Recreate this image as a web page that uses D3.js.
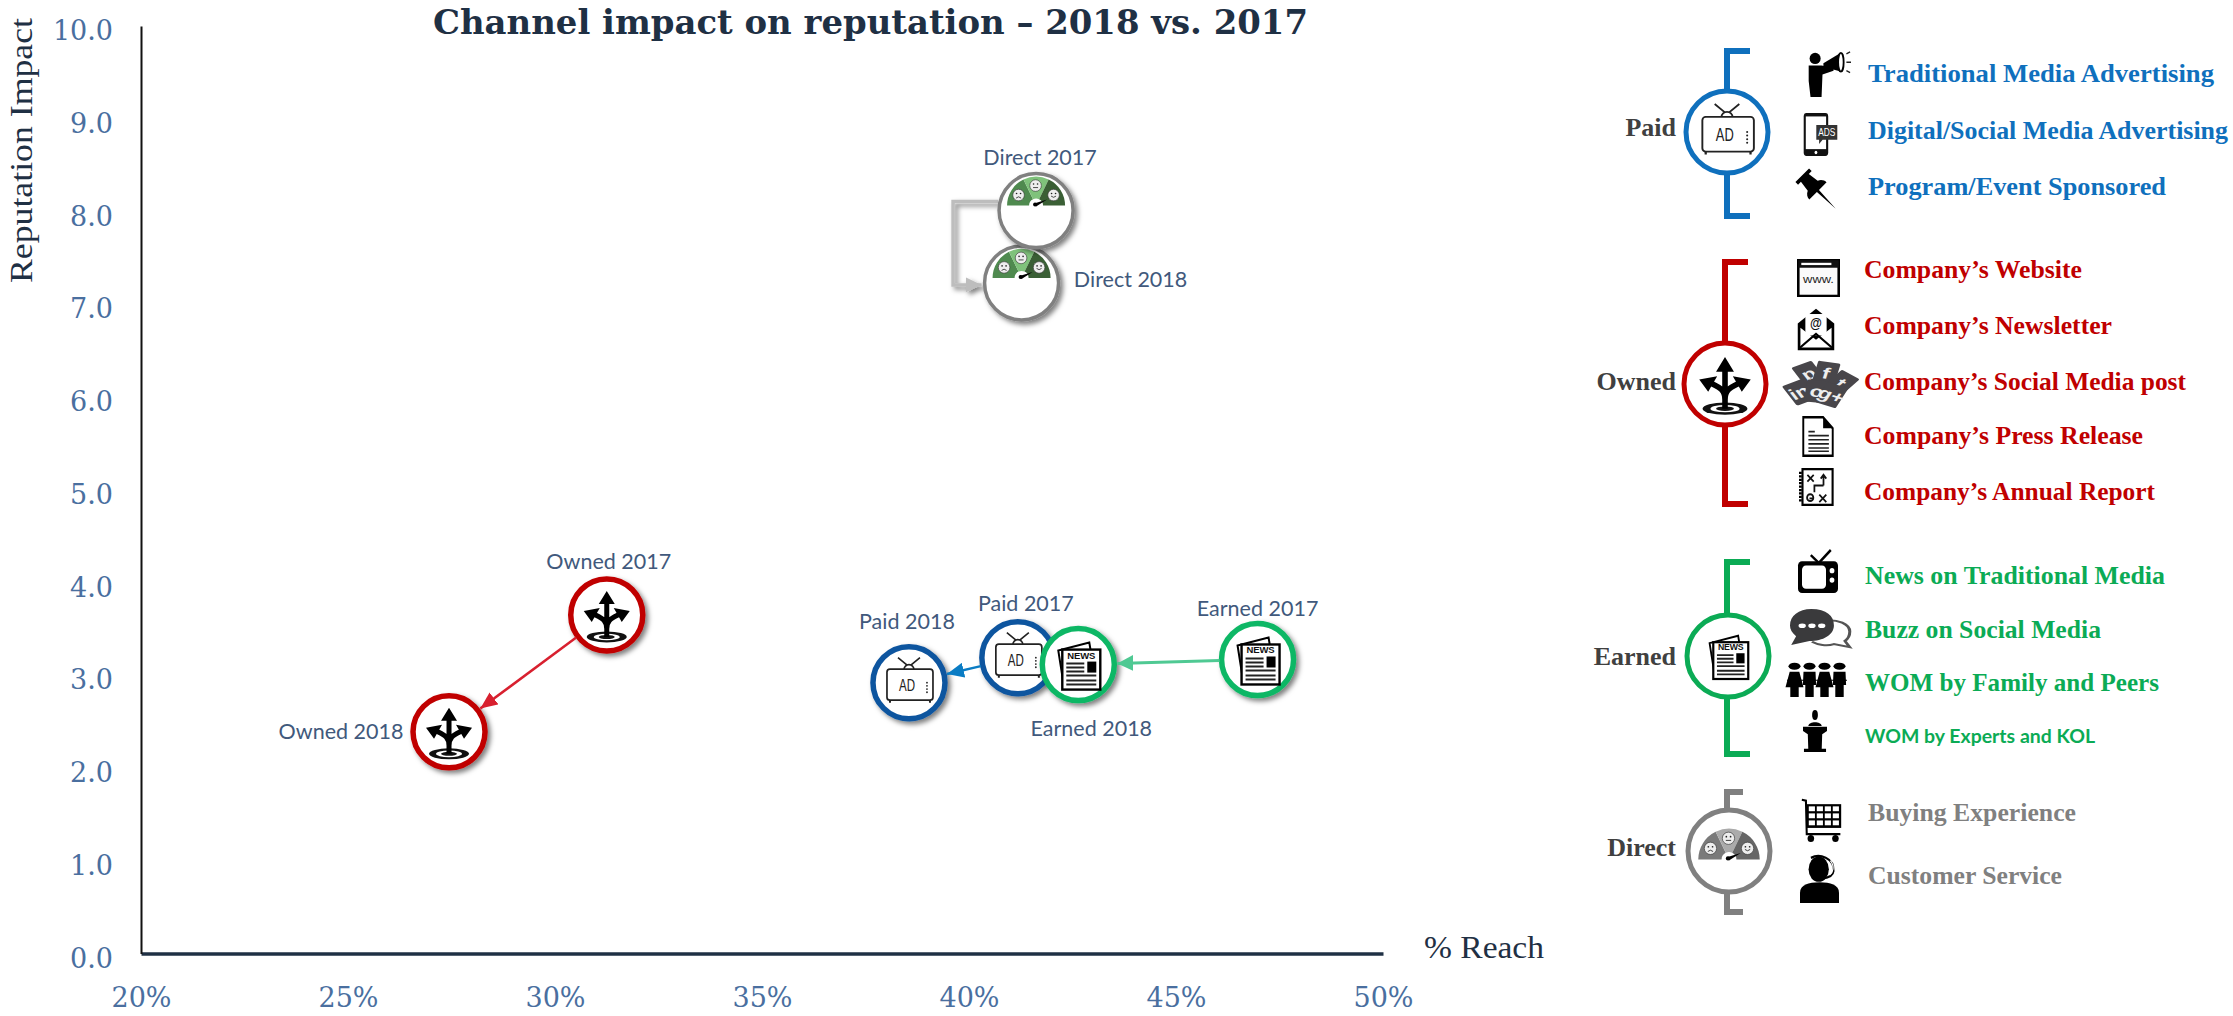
<!DOCTYPE html>
<html>
<head>
<meta charset="utf-8">
<script src="https://cdn.jsdelivr.net/npm/d3@7"></script>
<style>
  body { margin: 0; background: #fff; }
  svg { display: block; }
</style>
</head>
<body>
<svg id="board"></svg>
<script>
// values
let pointNames = ['Direct 2018', 'Direct 2017', 'Owned 2017', 'Owned 2018', 'Paid 2018', 'Paid 2017', 'Earned 2018', 'Earned 2017']
let pointChannel = ['Direct', 'Direct', 'Owned', 'Owned', 'Paid', 'Paid', 'Earned', 'Earned']
let pointReach = [41.27, 41.62, 31.25, 27.44, 38.55, 41.18, 42.64, 46.97]
let pointImpact = [7.23, 8.01, 3.65, 2.39, 2.92, 3.19, 3.115, 3.17]

let xTicks = [20, 25, 30, 35, 40, 45, 50]
let yTicks = [0, 1, 2, 3, 4, 5, 6, 7, 8, 9, 10]

let channels = ['Paid', 'Owned', 'Earned', 'Direct']
let paidItems = ['Traditional Media Advertising', 'Digital/Social Media Advertising', 'Program/Event Sponsored']
let ownedItems = ['Company’s Website', 'Company’s Newsletter', 'Company’s Social Media post', 'Company’s Press Release', 'Company’s Annual Report']
let earnedItems = ['News on Traditional Media', 'Buzz on Social Media', 'WOM by Family and Peers', 'WOM by Experts and KOL']
let directItems = ['Buying Experience', 'Customer Service']

// layout
let width = 2233
let height = 1016
let colors = { Paid: '#0f559f', Owned: '#c00000', Earned: '#0cb765', Direct: '#808080' }
let legendColors = { Paid: '#0f70bd', Owned: '#c00000', Earned: '#0bab55', Direct: '#808080' }
let labelColor = '#41597c'

let board = d3.select('#board').attr('width', width).attr('height', height)

let defs = board.append('defs')
let shadow = defs.append('filter').attr('id', 'shadow')
  .attr('x', '-30%').attr('y', '-30%').attr('width', '170%').attr('height', '170%')
shadow.append('feDropShadow').attr('dx', 3).attr('dy', 3).attr('stdDeviation', 2.5)
  .attr('flood-color', '#000').attr('flood-opacity', 0.5)

let xScale = d3.scaleLinear().domain([20, 50]).range([141, 1383])
let yScale = d3.scaleLinear().domain([0, 10]).range([953.5, 26])

// axes
let makeAxes = () => {
  let xAxis = d3.axisBottom(xScale).tickValues(xTicks).tickSize(0).tickPadding(0)
    .tickFormat((d) => d + '%')
  let gx = board.append('g').attr('transform', 'translate(0,' + yScale(0) + ')').call(xAxis)
  gx.select('.domain').attr('stroke', '#1f3044').attr('stroke-width', 3.5)
  gx.selectAll('text').attr('y', 53).attr('dy', 0)
    .style('font-family', '"DejaVu Serif"').style('font-size', '27px').attr('fill', '#4a6f9f')

  let yAxis = d3.axisLeft(yScale).tickValues(yTicks).tickSize(0).tickPadding(0)
    .tickFormat(d3.format('.1f'))
  let gy = board.append('g').attr('transform', 'translate(141,0)').call(yAxis)
  gy.select('.domain').attr('stroke', '#111').attr('stroke-width', 2)
  gy.selectAll('text').attr('x', -28).attr('dy', '0.5em')
    .style('font-family', '"DejaVu Serif"').style('font-size', '27px').attr('fill', '#4a6f9f')

  board.append('text').text('Channel impact on reputation – 2018 vs. 2017')
    .attr('x', 433).attr('y', 34)
    .attr('textLength', 875).attr('lengthAdjust', 'spacingAndGlyphs')
    .style('font-family', '"DejaVu Serif"').style('font-weight', 'bold').style('font-size', '34px')
    .attr('fill', '#1f3044')

  board.append('text').text('Reputation Impact')
    .attr('transform', 'translate(32,283) rotate(-90)')
    .attr('textLength', 265).attr('lengthAdjust', 'spacingAndGlyphs')
    .style('font-family', '"Liberation Serif"').style('font-size', '31px').attr('fill', '#1f3044')

  board.append('text').text('% Reach')
    .attr('x', 1424).attr('y', 958)
    .attr('textLength', 120).attr('lengthAdjust', 'spacingAndGlyphs')
    .style('font-family', '"Liberation Serif"').style('font-size', '31px').attr('fill', '#1f3044')
}

// icons that sit inside the circles, drawn around 0,0
let drawTv = (g) => {
  let ink = '#222'
  g.append('path').attr('d', 'M-11,-25L0,-16L11,-25').attr('fill', 'none').attr('stroke', ink).attr('stroke-width', 1.6)
  g.append('path').attr('d', 'M-5,-13A5,5 0 0 1 5,-13').attr('fill', '#fff').attr('stroke', ink).attr('stroke-width', 1.6)
  g.append('rect').attr('x', -22).attr('y', -13.5).attr('width', 46).attr('height', 31).attr('rx', 3)
    .attr('fill', '#fff').attr('stroke', ink).attr('stroke-width', 1.7)
  g.append('path').attr('d', 'M-19,17.5v2.5M21,17.5v2.5').attr('stroke', ink).attr('stroke-width', 2)
  g.append('text').text('AD').attr('x', -2).attr('y', 8).attr('text-anchor', 'middle')
    .attr('textLength', 16).attr('lengthAdjust', 'spacingAndGlyphs')
    .style('font-family', '"Liberation Sans"').style('font-size', '17px').attr('fill', ink)
  d3.range(4).forEach((i) => {
    g.append('circle').attr('cx', 18).attr('cy', 0 + i * 3.2).attr('r', 0.9).attr('fill', ink)
  })
}

let drawArrows = (g) => {
  g.append('ellipse').attr('cy', 22).attr('rx', 20).attr('ry', 5.5).attr('fill', '#111')
  g.append('ellipse').attr('cy', 22).attr('rx', 13).attr('ry', 3.3).attr('fill', '#fff')
  g.append('ellipse').attr('cy', 22).attr('rx', 8).attr('ry', 2).attr('fill', '#111')
  g.append('path').attr('d', 'M0,22V-14M0,14C0,4 -6,3 -15,-2M0,14C0,4 6,3 15,-2')
    .attr('fill', 'none').attr('stroke', '#000').attr('stroke-width', 5)
  g.append('path').attr('d', 'M0,-24L8,-11H-8ZM-23,-4L-7,-7L-15,7ZM23,-4L7,-7L15,7Z').attr('fill', '#000')
}

let drawNews = (g) => {
  g.append('path').attr('d', 'M-20,-14L11,-22L13,-10L-12,24H-14Z').attr('fill', '#fff').attr('stroke', '#000').attr('stroke-width', 2)
  g.append('rect').attr('x', -16).attr('y', -15).attr('width', 38).attr('height', 40)
    .attr('fill', '#fff').attr('stroke', '#000').attr('stroke-width', 2.4)
  g.append('text').text('NEWS').attr('x', 3).attr('y', -6).attr('text-anchor', 'middle')
    .attr('textLength', 28)
    .style('font-family', '"Liberation Sans"').style('font-weight', 'bold').style('font-size', '9.5px').attr('fill', '#111')
  g.append('rect').attr('x', 9).attr('y', -3).attr('width', 9).attr('height', 11).attr('fill', '#000')
  g.append('path').attr('d', 'M-12,-1H6M-12,3H6M-12,7H6M-12,11H18M-12,16H18M-12,20H18')
    .attr('stroke', '#222').attr('stroke-width', 2)
}

let drawGauge = (g, sectors) => {
  let arc = d3.arc().innerRadius(7).outerRadius(29)
  let cuts = [-Math.PI / 2, -0.45, 0.45, Math.PI / 2]
  sectors.forEach((c, i) => {
    g.append('path').attr('d', arc({ startAngle: cuts[i], endAngle: cuts[i + 1] })).attr('fill', c)
  })
  let faces = [[-17.5, -10.5, 1], [-0.5, -20, 0], [17.5, -10.5, -1]]
  faces.forEach((f) => {
    let face = g.append('g').attr('transform', 'translate(' + f[0] + ',' + f[1] + ')')
    face.append('circle').attr('r', 5.8).attr('fill', '#eee').attr('stroke', '#333').attr('stroke-width', 0.6)
    face.append('circle').attr('cx', -2).attr('cy', -1.5).attr('r', 0.8).attr('fill', '#222')
    face.append('circle').attr('cx', 2).attr('cy', -1.5).attr('r', 0.8).attr('fill', '#222')
    face.append('path').attr('d', 'M-2.5,' + (2 + f[2]) + 'Q0,' + (2 - f[2] * 1.5) + ' 2.5,' + (2 + f[2]))
      .attr('fill', 'none').attr('stroke', '#222').attr('stroke-width', 0.8)
  })
  g.append('path').attr('d', 'M-2,-2L11,-6L0,1Z').attr('fill', '#000')
  g.append('circle').attr('cx', -1).attr('cy', -1).attr('r', 2).attr('fill', '#000')
}

let drawChannelIcon = (g, name, grey) => {
  if (name == 'Paid') drawTv(g)
  if (name == 'Owned') drawArrows(g)
  if (name == 'Earned') drawNews(g)
  if (name == 'Direct') {
    let sectors = grey ? ['#7a7a7a', '#ababab', '#666'] : ['#4f8a4f', '#7fc27b', '#3a5f35']
    drawGauge(g.append('g').attr('transform', 'translate(0,' + (grey ? 8 : -5) + ')'), sectors)
  }
}

// arrows between the two years
let makeArrowHead = (id, color, len, wide) => {
  defs.append('marker').attr('id', id).attr('markerUnits', 'userSpaceOnUse')
    .attr('viewBox', '0 0 ' + len + ' ' + wide)
    .attr('refX', len).attr('refY', wide / 2)
    .attr('markerWidth', len).attr('markerHeight', wide).attr('orient', 'auto')
    .append('path').attr('d', 'M0,0L' + len + ',' + wide / 2 + 'L0,' + wide + 'Z').attr('fill', color)
}

let findPoint = (name) => {
  let i = pointNames.indexOf(name)
  return [xScale(pointReach[i]), yScale(pointImpact[i])]
}

let makeArrow = (from, to, color, id, strokeW) => {
  let a = findPoint(from)
  let b = findPoint(to)
  let d = Math.hypot(b[0] - a[0], b[1] - a[1])
  let ux = (b[0] - a[0]) / d
  let uy = (b[1] - a[1]) / d
  board.append('line')
    .attr('x1', a[0] + ux * 38).attr('y1', a[1] + uy * 38)
    .attr('x2', b[0] - ux * 39).attr('y2', b[1] - uy * 39)
    .attr('stroke', color).attr('stroke-width', strokeW)
    .attr('marker-end', 'url(#' + id + ')')
}

let makePoints = () => {
  let labelDx = [109, 4, 2, -108, -2, 8, 13, 0]
  let labelDy = [-3, -53, -53, 0, -61, -54, 64, -50]

  makeArrowHead('headRed', '#d8202f', 17, 15)
  makeArrowHead('headBlue', '#0a7cc4', 17, 15)
  makeArrowHead('headGreen', '#4fc993', 16, 16)
  makeArrowHead('headGrey', '#bdbdbd', 16, 15)

  // elbow arrow for Direct
  let d17 = findPoint('Direct 2017')
  let d18 = findPoint('Direct 2018')
  board.append('path')
    .attr('d', 'M' + (d17[0] - 38) + ',' + (d17[1] - 9) + 'H' + (d17[0] - 83) + 'V' + (d18[1] + 2) + 'H' + (d18[0] - 40))
    .attr('fill', 'none').attr('stroke', '#bdbdbd').attr('stroke-width', 3.5)
    .attr('marker-end', 'url(#headGrey)')
    .attr('filter', 'url(#shadow)')

  let points = board.selectAll('.point')
    .data(pointNames)
    .enter()
    .append('g')
    .attr('class', 'point')
    .attr('transform', (d, i) => 'translate(' + xScale(pointReach[i]) + ',' + yScale(pointImpact[i]) + ')')

  points.append('circle')
    .attr('r', (d, i) => pointChannel[i] == 'Direct' ? 37 : 36)
    .attr('fill', '#fff')
    .attr('stroke', (d, i) => colors[pointChannel[i]])
    .attr('stroke-width', (d, i) => pointChannel[i] == 'Direct' ? 3.5 : 5.5)
    .attr('filter', 'url(#shadow)')

  points.each(function (d, i) {
    drawChannelIcon(d3.select(this).append('g'), pointChannel[i], false)
  })

  makeArrow('Owned 2017', 'Owned 2018', '#d8202f', 'headRed', 2.5)
  makeArrow('Paid 2017', 'Paid 2018', '#0a7cc4', 'headBlue', 2.5)
  makeArrow('Earned 2017', 'Earned 2018', '#4fc993', 'headGreen', 3)

  points.append('text')
    .text((d) => d)
    .attr('x', (d, i) => labelDx[i])
    .attr('y', (d, i) => labelDy[i] + 7)
    .attr('text-anchor', 'middle')
    .style('font-family', 'Lato')
    .style('font-size', '21.5px')
    .attr('fill', labelColor)
}

// small pictures of the legend, each drawn in a 100x100 box
let pictures = {
  speaker: (g) => {
    g.append('circle').attr('cx', 22).attr('cy', 18).attr('r', 12).attr('fill', '#000')
    g.append('path').attr('d', 'M8,33H36L62,38V44L38,52L36,100H12L8,66Z').attr('fill', '#000')
    g.append('path').attr('d', 'M40,28L78,6V46L40,36Z').attr('fill', '#000')
    g.append('ellipse').attr('cx', 78).attr('cy', 26).attr('rx', 6).attr('ry', 20).attr('fill', '#fff').attr('stroke', '#000').attr('stroke-width', 4)
    g.append('path').attr('d', 'M90,8L98,4M90,26H100M90,44L98,48').attr('stroke', '#222').attr('stroke-width', 3)
  },
  phone: (g) => {
    g.append('rect').attr('x', 2).attr('y', 0).attr('width', 70).attr('height', 100).attr('rx', 8).attr('fill', '#111')
    g.append('rect').attr('x', 8).attr('y', 8).attr('width', 58).attr('height', 76).attr('fill', '#fff')
    g.append('circle').attr('cx', 37).attr('cy', 92).attr('r', 4).attr('fill', '#fff')
    g.append('path').attr('d', 'M38,28H98V62H56L46,72V62H38Z').attr('fill', '#333')
    g.append('text').text('ADS').attr('x', 68).attr('y', 54).attr('text-anchor', 'middle')
      .style('font-family', '"Liberation Sans"').style('font-size', '24px').attr('fill', '#fff')
  },
  pin: (g) => {
    g.append('path').attr('transform', 'translate(40,40) rotate(-45)')
      .attr('d', 'M-26,-48H26V-38H15L19,-8C28,-4 33,4 33,12H4L0,80L-4,12H-33C-33,4 -28,-4 -19,-8L-15,-38H-26Z')
      .attr('fill', '#000')
  },
  www: (g) => {
    g.append('rect').attr('x', 3).attr('y', 3).attr('width', 94).attr('height', 94).attr('fill', '#fafafa').attr('stroke', '#000').attr('stroke-width', 6)
    g.append('rect').attr('x', 3).attr('y', 3).attr('width', 94).attr('height', 20).attr('fill', '#111')
    g.append('rect').attr('x', 10).attr('y', 10).attr('width', 70).attr('height', 6).attr('fill', '#fff')
    g.append('text').text('www.').attr('x', 50).attr('y', 62).attr('text-anchor', 'middle')
      .style('font-family', '"Liberation Sans"').style('font-size', '30px').attr('fill', '#222')
  },
  envelope: (g) => {
    g.append('path').attr('d', 'M2,36L50,2L98,36V98H2Z').attr('fill', '#000')
    g.append('rect').attr('x', 22).attr('y', 14).attr('width', 56).attr('height', 50).attr('fill', '#fff')
    g.append('text').text('@').attr('x', 50).attr('y', 46).attr('text-anchor', 'middle')
      .style('font-family', '"Liberation Sans"').style('font-weight', 'bold').style('font-size', '32px').attr('fill', '#111')
    g.append('path').attr('d', 'M9,46L50,74L91,46V92H9Z').attr('fill', '#fff')
    g.append('path').attr('d', 'M8,92L50,60L92,92').attr('fill', 'none').attr('stroke', '#000').attr('stroke-width', 5)
  },
  social: (g) => {
    let tiles = [[34, 26, -28, 'p'], [60, 24, 12, 'f'], [82, 46, 38, 't'], [20, 66, -28, 'in'], [46, 64, 8, 'o'], [68, 72, 24, 'g+']]
    tiles.forEach((t) => {
      let tile = g.append('g').attr('transform', 'translate(' + t[0] + ',' + t[1] + ') rotate(' + t[2] + ')')
      tile.append('rect').attr('x', -17).attr('y', -24).attr('width', 34).attr('height', 48).attr('rx', 3).attr('fill', '#48464a')
      tile.append('text').text(t[3]).attr('y', 12).attr('text-anchor', 'middle')
        .style('font-family', '"Liberation Sans"').style('font-weight', 'bold').style('font-size', '34px').attr('fill', '#eee')
    })
  },
  doc: (g) => {
    g.append('path').attr('d', 'M4,3H66L96,30V97H4Z').attr('fill', '#fff').attr('stroke', '#000').attr('stroke-width', 6)
    g.append('path').attr('d', 'M66,3V30H96Z').attr('fill', '#000')
    g.append('path').attr('d', 'M20,38H40M20,48H84M20,58H84M20,68H84M20,78H84M20,86H84')
      .attr('stroke', '#222').attr('stroke-width', 4)
  },
  report: (g) => {
    g.append('rect').attr('x', 10).attr('y', 3).attr('width', 86).attr('height', 94).attr('fill', '#fff').attr('stroke', '#000').attr('stroke-width', 6)
    g.append('path').attr('d', 'M4,10V90').attr('stroke', '#000').attr('stroke-width', 8).attr('stroke-dasharray', '6 3')
    g.append('path').attr('d', 'M24,18L42,36M42,18L24,36M58,70L78,90M78,70L58,90M40,80H30M70,46V20M62,28L70,18L78,28M70,46H44V64')
      .attr('fill', 'none').attr('stroke', '#111').attr('stroke-width', 5)
    g.append('circle').attr('cx', 32).attr('cy', 78).attr('r', 9).attr('fill', 'none').attr('stroke', '#111').attr('stroke-width', 5)
  },
  set: (g) => {
    g.append('path').attr('d', 'M32,12L52,30L82,0').attr('fill', 'none').attr('stroke', '#000').attr('stroke-width', 6)
    g.append('rect').attr('y', 26).attr('width', 100).attr('height', 74).attr('rx', 10).attr('fill', '#000')
    g.append('rect').attr('x', 10).attr('y', 36).attr('width', 60).attr('height', 54).attr('rx', 10).attr('fill', '#fff')
    g.append('circle').attr('cx', 85).attr('cy', 48).attr('r', 6).attr('fill', '#fff')
    g.append('circle').attr('cx', 85).attr('cy', 70).attr('r', 6).attr('fill', '#fff')
  },
  chat: (g) => {
    g.append('path').attr('d', 'M52,30C80,24 98,40 98,58C98,70 94,78 90,82L98,98L72,90C60,96 46,92 36,84')
      .attr('fill', '#fff').attr('stroke', '#555').attr('stroke-width', 5)
    g.append('path').attr('d', 'M35,0C60,0 72,18 72,42C72,66 54,82 32,82L2,92L10,70C3,60 0,52 0,42C0,18 14,0 35,0Z').attr('fill', '#3a3a3c')
    d3.range(3).forEach((i) => {
      g.append('circle').attr('cx', 20 + i * 16).attr('cy', 43).attr('r', 6).attr('fill', '#fff')
    })
  },
  people: (g) => {
    d3.range(4).forEach((i) => {
      let p = g.append('g').attr('transform', 'translate(' + (12.5 + i * 25) + ',0)')
      p.append('circle').attr('cy', 12).attr('r', 10).attr('fill', '#000')
      p.append('path').attr('d', i % 2 ? 'M-10,28H10L11,66H7V100H-7V66H-11Z' : 'M-8,28H8L15,72H7V100H-7V72H-15Z').attr('fill', '#000')
    })
    g.append('path').attr('d', 'M0,52L100,52').attr('stroke', '#000').attr('stroke-width', 3)
  },
  podium: (g) => {
    g.append('circle').attr('cx', 50).attr('cy', 12).attr('r', 12).attr('fill', '#000')
    g.append('path').attr('d', 'M22,38C24,26 76,26 78,38Z').attr('fill', '#000')
    g.append('path').attr('d', 'M0,40H100V50L80,58L78,92H96V100H4V92H22L20,58L0,50Z').attr('fill', '#000')
  },
  cart: (g) => {
    g.append('path').attr('d', 'M2,4L12,6L14,82H96').attr('fill', 'none').attr('stroke', '#000').attr('stroke-width', 5)
    g.append('rect').attr('x', 14).attr('y', 14).attr('width', 84).attr('height', 54).attr('fill', '#000')
    d3.range(4).forEach((c) => d3.range(3).forEach((r) => {
      g.append('rect').attr('x', 19 + c * 19.5).attr('y', 19 + r * 16).attr('width', 15).attr('height', 11).attr('fill', '#fff')
    }))
    g.append('circle').attr('cx', 24).attr('cy', 92).attr('r', 8).attr('fill', '#000')
    g.append('circle').attr('cx', 84).attr('cy', 92).attr('r', 8).attr('fill', '#000')
  },
  agent: (g) => {
    g.append('path').attr('d', 'M0,100V78C0,62 22,56 50,56C78,56 100,62 100,78V100Z').attr('fill', '#000')
    g.append('ellipse').attr('cx', 48).attr('cy', 28).attr('rx', 26).attr('ry', 27).attr('fill', '#000')
    g.append('path').attr('d', 'M28,4C50,-6 88,4 86,32C85,42 72,46 58,48').attr('fill', 'none').attr('stroke', '#000').attr('stroke-width', 5)
    g.append('path').attr('d', 'M78,10C90,22 84,36 76,40').attr('fill', 'none').attr('stroke', '#fff').attr('stroke-width', 3)
  }
}

let makeLegend = () => {
  let groups = [
    { name: 'Paid', items: paidItems, x: 1727, cy: 132, labelY: 129, top: 51, bottom: 216, cap: 1750, gx: 1727, textX: 1868, r: 41,
      itemY: [75, 132, 188], itemW: [346, 360, 298], scale: 1.12,
      pics: [['speaker', 1805, 50, 46, 47], ['phone', 1803, 113, 35, 43], ['pin', 1800, 173, 37, 37]] },
    { name: 'Owned', items: ownedItems, x: 1725, cy: 384, labelY: 383, top: 262, bottom: 504, cap: 1748, gx: 1725, textX: 1864, r: 41,
      itemY: [271, 327, 383, 437, 493], itemW: [218, 248, 322, 279, 291], scale: 1.12,
      pics: [['www', 1797, 259, 43, 38], ['envelope', 1797, 308, 38, 43], ['social', 1786, 362, 67, 46], ['doc', 1802, 416, 32, 41], ['report', 1799, 468, 35, 38]] },
    { name: 'Earned', items: earnedItems, x: 1727, cy: 656, labelY: 658, top: 562, bottom: 754, cap: 1750, gx: 1728, textX: 1865, r: 41,
      itemY: [577, 631, 684, 737], itemW: [300, 236, 294, 230], scale: 0.92,
      pics: [['set', 1798, 550, 40, 43], ['chat', 1790, 609, 61, 39], ['people', 1787, 662, 60, 35], ['podium', 1803, 710, 24, 42]] },
    { name: 'Direct', items: directItems, x: 1727, cy: 851, labelY: 849, top: 792, bottom: 912, cap: 1743, gx: 1729, textX: 1868, r: 41,
      itemY: [814, 877], itemW: [208, 194], scale: 1.06,
      pics: [['cart', 1801, 798, 41, 44], ['agent', 1800, 856, 39, 47]] }
  ]

  groups.forEach((p, n) => {
    let color = legendColors[channels[n]]
    board.append('path')
      .attr('d', 'M' + p.cap + ',' + p.top + 'H' + p.x + 'V' + p.bottom + 'H' + p.cap)
      .attr('fill', 'none').attr('stroke', color).attr('stroke-width', 6)

    let mark = board.append('g').attr('transform', 'translate(' + p.gx + ',' + p.cy + ')')
    mark.append('circle').attr('r', p.r).attr('fill', '#fff').attr('stroke', color).attr('stroke-width', 5)
    drawChannelIcon(mark.append('g').attr('transform', 'scale(' + p.scale + ')'), p.name, true)

    board.append('text').text(p.name)
      .attr('x', 1676).attr('y', p.labelY + 7).attr('text-anchor', 'end')
      .style('font-family', '"Liberation Serif"').style('font-weight', 'bold').style('font-size', '26px')
      .attr('fill', '#404040')

    p.items.forEach((t, i) => {
      let sans = t == 'WOM by Experts and KOL'
      board.append('text').text(t)
        .attr('x', p.textX).attr('y', p.itemY[i] + (sans ? 6 : 7))
        .attr('textLength', p.itemW[i]).attr('lengthAdjust', 'spacingAndGlyphs')
        .style('font-family', sans ? 'Lato' : '"Liberation Serif"')
        .style('font-weight', 'bold').style('font-size', sans ? '18px' : '25px')
        .attr('fill', color)
    })

    p.pics.forEach((c) => {
      let g = board.append('g')
        .attr('transform', 'translate(' + c[1] + ',' + c[2] + ') scale(' + c[3] / 100 + ',' + c[4] / 100 + ')')
      pictures[c[0]](g)
    })
  })
}

makeAxes()
makePoints()
makeLegend()
</script>
</body>
</html>
